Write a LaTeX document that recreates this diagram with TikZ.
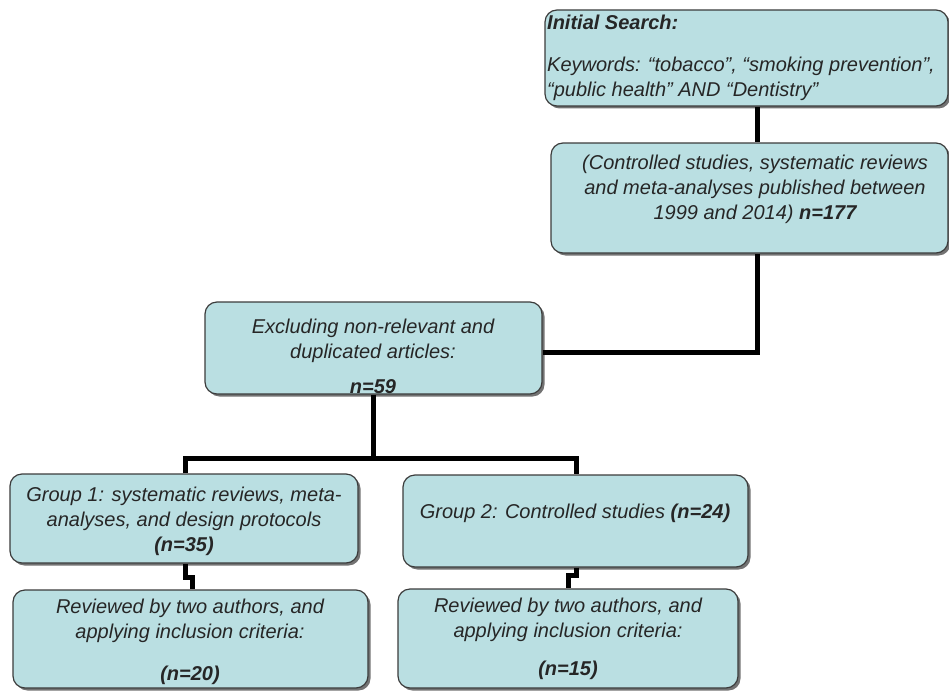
\documentclass[tikz,border=0pt]{standalone}
\usepackage{fontspec}
\setmainfont{Liberation Sans}
\usetikzlibrary{shadows}
\definecolor{boxfill}{HTML}{BADFE2}
\definecolor{boxline}{HTML}{3C3C3C}
\begin{document}
\begin{tikzpicture}[x=1pt,y=-1pt,
  box/.style={draw=boxline, line width=1.2pt, fill=boxfill, rounded corners=12pt,
    drop shadow={shadow xshift=2.5pt, shadow yshift=-2.5pt, fill=black!55, opacity=1},
    inner sep=0pt},
  txt/.style={font=\fontsize{20}{25}\selectfont\itshape, align=center, inner sep=0pt, text=black!85},
  conn/.style={line width=5pt, black}]
\useasboundingbox (0,0) rectangle (949,690);

% boxes
\node[box, minimum width=403pt, minimum height=96pt]  (b1) at (746.5,58) {};
\node[box, minimum width=397pt, minimum height=110pt] (b2) at (749.5,198) {};
\node[box, minimum width=337pt, minimum height=92pt]  (b3) at (373.5,348) {};
\node[box, minimum width=348pt, minimum height=89pt]  (g1) at (184,518.5) {};
\node[box, minimum width=345pt, minimum height=92pt]  (g2) at (575.5,521) {};
\node[box, minimum width=355pt, minimum height=98pt]  (r1) at (190.5,639) {};
\node[box, minimum width=340pt, minimum height=99pt]  (r2) at (568,638.5) {};

% texts
\node[txt, anchor=west] (t1a) at (547,22) {\textbf{Initial Search:}};
\node[txt, anchor=west, align=left] (t1b) at (547,79) {Keywords: “tobacco”, “smoking prevention”,\\“public health” AND “Dentistry”};
\node[txt] (t2) at (755,189) {(Controlled studies, systematic reviews\\and meta-analyses published between\\1999 and 2014) \textbf{n=177}};
\node[txt] (t3) at (373,356) {Excluding non-relevant and\\duplicated articles:\\[10pt]\textbf{n=59}};
\node[txt] (tg1) at (184,521) {Group 1: systematic reviews, meta-\\analyses, and design protocols\\\textbf{(n=35)}};
\node[txt] (tg2) at (575,513) {Group 2: Controlled studies \textbf{(n=24)}};
\node[txt] (tr1) at (190,641.5) {Reviewed by two authors, and\\applying inclusion criteria:\\[17pt]\textbf{(n=20)}};
\node[txt] (tr2) at (568,639) {Reviewed by two authors, and\\applying inclusion criteria:\\[13pt]\textbf{(n=15)}};

% connector coordinates
\coordinate (j1) at (757,352);
\coordinate (bar) at (373,458);
\coordinate (jL) at (185,458);
\coordinate (jR) at (576,458);
\coordinate (k1) at (185,577);
\coordinate (k1b) at (192,577);
\coordinate (k2) at (576,575);
\coordinate (k2b) at (568,575);

\draw[conn] (b1.south -| j1) -- (b2.north -| j1);
\draw[conn] (b2.south -| j1) -- (j1) -- (b3.east |- j1);
\draw[conn] (b3.south -| bar) -- (bar);
\draw[conn] (g1.north -| jL) -- (jL) -- (jR) -- (g2.north -| jR);
\draw[conn] (g1.south -| k1) -- (k1) -- (k1b) -- (r1.north -| k1b);
\draw[conn] (g2.south -| k2) -- (k2) -- (k2b) -- (r2.north -| k2b);
\end{tikzpicture}
\end{document}
